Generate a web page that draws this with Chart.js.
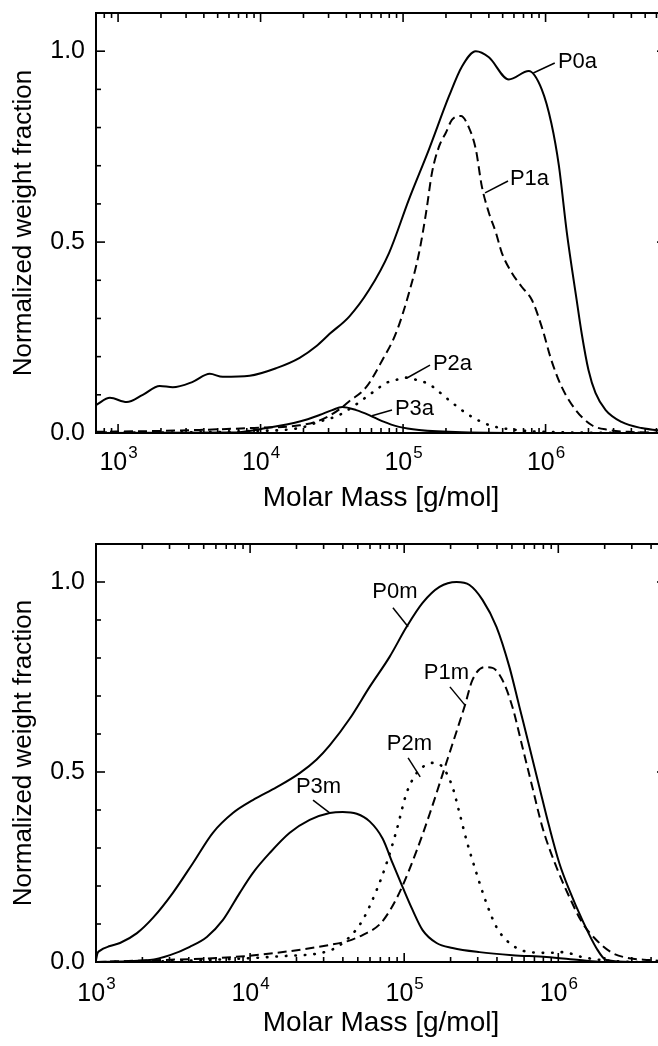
<!DOCTYPE html>
<html lang="en">
<head>
<meta charset="UTF-8">
<title>Normalized weight fraction vs molar mass</title>
<script src="https://cdn.jsdelivr.net/npm/chart.js"></script>
<style>
  html, body { margin: 0; padding: 0; overflow: hidden; background: #fff; }
  canvas { display: block; }
</style>
</head>
<body>
<canvas id="chartA" width="666" height="520"></canvas>
<canvas id="chartM" width="666" height="526"></canvas>
<script>
// ---- top panel (a) ----
const massP0a = [700, 877, 1150, 1490, 1960, 2420, 3340, 4400, 5420, 8380, 12900, 18800, 24700, 30400, 41900, 57800, 79800, 110000, 152000, 210000, 259000, 324000, 400000, 552000, 762000, 940000, 1100000, 1240000, 1410000, 1650000, 1790000, 2000000, 2240000, 2640000, 3410000, 4710000, 7000000];
const wP0a = [0.073, 0.092, 0.081, 0.10, 0.123, 0.12, 0.134, 0.155, 0.147, 0.15, 0.17, 0.197, 0.228, 0.259, 0.305, 0.375, 0.472, 0.612, 0.743, 0.882, 0.96, 1.0, 0.984, 0.926, 0.948, 0.90, 0.81, 0.70, 0.525, 0.35, 0.262, 0.165, 0.105, 0.06, 0.029, 0.013, 0.005];

const massP1a = [700, 1670, 3740, 8380, 18800, 24700, 30400, 35700, 41900, 55100, 71300, 89300, 110000, 129500, 145000, 159600, 178700, 200000, 220000, 254700, 289800, 324000, 357000, 400000, 448000, 493000, 579000, 680000, 800000, 940000, 1100000, 1300000, 1630000, 2100000, 2770000, 3820000, 7000000];
const wP1a = [0.003, 0.005, 0.008, 0.013, 0.02, 0.03, 0.045, 0.062, 0.083, 0.12, 0.19, 0.262, 0.367, 0.472, 0.577, 0.682, 0.75, 0.787, 0.82, 0.83, 0.80, 0.743, 0.646, 0.577, 0.525, 0.472, 0.42, 0.383, 0.349, 0.278, 0.19, 0.12, 0.06, 0.021, 0.008, 0.003, 0.0];

const massP2a = [700, 3740, 8380, 18800, 25900, 35700, 46900, 55100, 64700, 76000, 89300, 105000, 129500, 152000, 178700, 220000, 290000, 400000, 618000, 1240000, 7000000];
const wP2a = [0.001, 0.002, 0.005, 0.013, 0.03, 0.047, 0.075, 0.094, 0.113, 0.131, 0.139, 0.145, 0.137, 0.128, 0.108, 0.08, 0.047, 0.021, 0.008, 0.002, 0.0];

const massP3a = [700, 6370, 11000, 18800, 25900, 31800, 37400, 46900, 57800, 71300, 93700, 129500, 259000, 1050000, 7000000];
const wP3a = [0, 0.001, 0.013, 0.03, 0.047, 0.06, 0.068, 0.06, 0.047, 0.031, 0.016, 0.008, 0.002, 0, 0];

// ---- bottom panel (m) ----
const massP0m = [1000, 1020, 1062, 1232, 1431, 1845, 2340, 3155, 4253, 5731, 7727, 10410, 14890, 20990, 27040, 32850, 44270, 59670, 80390, 103700, 131600, 169500, 218600, 265400, 322200, 397000, 482000, 559700, 650000, 754000, 875000, 1016000, 1180000, 1433000, 1765000, 2050000, 3000000, 5000000];
const wP0m = [0.005, 0.022, 0.03, 0.042, 0.05, 0.076, 0.116, 0.182, 0.26, 0.34, 0.392, 0.426, 0.46, 0.497, 0.533, 0.57, 0.64, 0.724, 0.803, 0.882, 0.945, 0.987, 1.0, 0.992, 0.953, 0.882, 0.776, 0.671, 0.566, 0.46, 0.355, 0.26, 0.189, 0.11, 0.037, 0.005, 0, 0];

const massP1m = [1000, 1740, 7730, 15500, 32800, 43000, 53700, 69700, 82000, 96800, 121000, 147000, 178500, 220000, 248000, 277000, 333000, 374000, 434000, 504000, 585000, 679000, 788000, 972000, 1180000, 1433000, 1765000, 2240000, 2890000, 3890000, 5000000];
const wP1m = [0, 0.003, 0.013, 0.025, 0.045, 0.055, 0.071, 0.1, 0.14, 0.197, 0.295, 0.392, 0.497, 0.61, 0.676, 0.742, 0.776, 0.774, 0.742, 0.671, 0.566, 0.46, 0.355, 0.25, 0.171, 0.103, 0.058, 0.024, 0.01, 0.005, 0.002];

const massP2m = [1000, 2240, 7730, 15500, 32800, 44270, 53700, 66200, 76900, 89300, 103700, 120300, 131600, 152800, 177500, 206000, 228500, 253500, 294300, 341700, 397000, 482000, 650000, 875000, 1065000, 1433000, 1930000, 3360000, 5000000];
const wP2m = [0, 0.001, 0.008, 0.015, 0.03, 0.066, 0.11, 0.189, 0.26, 0.347, 0.445, 0.497, 0.513, 0.524, 0.513, 0.46, 0.392, 0.321, 0.234, 0.155, 0.092, 0.05, 0.026, 0.024, 0.026, 0.013, 0.005, 0, 0];

const massP3m = [1000, 2240, 3020, 4060, 5240, 6650, 8570, 10410, 13420, 18080, 24360, 32850, 39900, 49200, 59670, 72400, 84100, 97700, 113300, 131600, 162200, 206000, 308000, 504000, 837000, 1370000, 1930000, 5000000];
const wP3m = [0, 0.005, 0.018, 0.04, 0.066, 0.11, 0.182, 0.234, 0.287, 0.34, 0.374, 0.392, 0.395, 0.39, 0.37, 0.325, 0.26, 0.197, 0.137, 0.084, 0.05, 0.037, 0.026, 0.018, 0.013, 0.005, 0, 0];

const yTicks = [0, 0.5, 1.0];

// curve labels with their pointer lines, in data coordinates
const labelsA = [
  { text: 'P0a', at: [1.22e6, 0.972], align: 'left', from: [8.2e5, 0.943], to: [1.16e6, 0.969] },
  { text: 'P1a', at: [5.62e5, 0.665], align: 'left', from: [3.76e5, 0.629], to: [5.45e5, 0.66] },
  { text: 'P2a', at: [1.62e5, 0.181], align: 'left', from: [1.065e5, 0.144], to: [1.545e5, 0.178] },
  { text: 'P3a', at: [8.77e4, 0.063], align: 'left', from: [6.05e4, 0.045], to: [8.36e4, 0.06] }
];
const labelsM = [
  { text: 'P0m', at: [8.71e4, 0.974], align: 'center', from: [8.45e4, 0.932], to: [1.06e5, 0.882] },
  { text: 'P1m', at: [1.88e5, 0.76], align: 'center', from: [1.98e5, 0.724], to: [2.48e5, 0.676] },
  { text: 'P2m', at: [1.08e5, 0.574], align: 'center', from: [1.06e5, 0.537], to: [1.27e5, 0.487] },
  { text: 'P3m', at: [2.78e4, 0.46], align: 'center', from: [2.56e4, 0.426], to: [3.3e4, 0.392] }
];

const FONT = '"Liberation Sans", Arial, Helvetica, sans-serif';

function pts(xs, ys) {
  return xs.map((m, i) => ({ x: m, y: ys[i] }));
}

function curve(xs, ys, style) {
  const ds = {
    data: pts(xs, ys),
    borderColor: '#000',
    borderWidth: 2,
    pointRadius: 0,
    fill: false,
    cubicInterpolationMode: 'monotone'
  };
  if (style === 'dash') ds.borderDash = [9, 5];
  if (style === 'dot') {
    ds.borderDash = [0.5, 9];
    ds.borderCapStyle = 'round';
    ds.borderWidth = 2.6;
  }
  return ds;
}

// frame, inward ticks, 10^n labels and curve annotations
const decor = {
  id: 'decor',
  afterDraw(chart, args, opts) {
    const { ctx, chartArea: a, scales: { x, y } } = chart;
    ctx.save();
    ctx.strokeStyle = '#000';
    ctx.fillStyle = '#000';

    const seg = (x1, y1, x2, y2) => {
      ctx.beginPath(); ctx.moveTo(x1, y1); ctx.lineTo(x2, y2); ctx.stroke();
    };

    // ticks on x (bottom + top)
    ctx.lineWidth = 1.6;
    const lo = Math.floor(Math.log10(x.min)), hi = Math.ceil(Math.log10(x.max));
    for (let d = lo; d <= hi; d++) {
      for (let k = 1; k <= 9; k++) {
        const v = k * Math.pow(10, d);
        if (v < x.min * 0.999 || v > x.max) continue;
        const px = x.getPixelForValue(v);
        const len = k === 1 ? 9 : 5;
        seg(px, a.bottom, px, a.bottom - len);
        seg(px, a.top, px, a.top + len);
      }
    }
    // ticks on y (left + right)
    for (let i = 0; i <= 11; i++) {
      const v = i / 10;
      if (v > y.max) continue;
      const py = y.getPixelForValue(v);
      const len = i % 5 === 0 ? 9 : 5;
      seg(a.left, py, a.left + len, py);
      seg(a.right, py, a.right - len, py);
    }

    // frame
    ctx.lineWidth = 2;
    ctx.strokeRect(a.left, a.top, a.right - a.left, a.bottom - a.top);

    // 10^n tick labels
    ctx.textBaseline = 'alphabetic';
    ctx.textAlign = 'left';
    for (let d = lo; d <= hi; d++) {
      const v = Math.pow(10, d);
      if (v < x.min * 0.999 || v > x.max) continue;
      const px = x.getPixelForValue(v);
      ctx.font = '25px ' + FONT;
      const w1 = ctx.measureText('10').width;
      ctx.font = '17px ' + FONT;
      const w2 = ctx.measureText(String(d)).width;
      const start = px - (w1 + w2) / 2;
      const base = a.bottom + opts.labelDrop;
      ctx.font = '25px ' + FONT;
      ctx.fillText('10', start, base);
      ctx.font = '17px ' + FONT;
      ctx.fillText(String(d), start + w1 + 1, base - 12);
    }

    // curve labels
    ctx.lineWidth = 1.5;
    ctx.font = '22px ' + FONT;
    ctx.textBaseline = 'middle';
    opts.labels.forEach(l => {
      seg(x.getPixelForValue(l.from[0]), y.getPixelForValue(l.from[1]),
          x.getPixelForValue(l.to[0]), y.getPixelForValue(l.to[1]));
      ctx.textAlign = l.align;
      ctx.fillText(l.text, x.getPixelForValue(l.at[0]), y.getPixelForValue(l.at[1]));
    });
    ctx.restore();
  }
};

function makeChart(id, datasets, cfg) {
  return new Chart(document.getElementById(id), {
    type: 'line',
    data: { datasets: datasets },
    plugins: [decor],
    options: {
      responsive: false,
      animation: false,
      events: [],
      layout: { padding: { top: cfg.padTop, right: 0, bottom: 0, left: 0 } },
      plugins: {
        legend: { display: false },
        tooltip: { enabled: false },
        decor: { labels: cfg.labels, labelDrop: cfg.labelDrop }
      },
      scales: {
        x: {
          type: 'logarithmic',
          min: cfg.xMin,
          max: cfg.xMax,
          grid: { display: false, drawTicks: false },
          border: { display: false },
          ticks: { display: false },
          title: {
            display: true,
            text: 'Molar Mass [g/mol]',
            color: '#000',
            font: { family: FONT, size: 28 },
            padding: { top: 0, bottom: cfg.titlePad }
          },
          afterFit(s) {
            s.height = cfg.xAxisHeight;
            s.paddingLeft = 0; s.paddingRight = 0;
          }
        },
        y: {
          min: 0,
          max: 1.1,
          grid: { display: false, drawTicks: false },
          border: { display: false },
          afterBuildTicks(s) { s.ticks = yTicks.map(v => ({ value: v })); },
          ticks: {
            padding: 11,
            color: '#000',
            font: { family: FONT, size: 25 },
            callback: v => Number(v).toFixed(1)
          },
          title: {
            display: true,
            text: 'Normalized weight fraction',
            color: '#000',
            font: { family: FONT, size: 26 },
            padding: { top: 8.4, bottom: 0 }
          },
          afterFit(s) {
            s.width = 96;
            s.paddingTop = 0; s.paddingBottom = 0;
          }
        }
      }
    }
  });
}

makeChart('chartA', [
  curve(massP0a, wP0a, 'solid'),
  curve(massP1a, wP1a, 'dash'),
  curve(massP2a, wP2a, 'dot'),
  curve(massP3a, wP3a, 'solid')
], { xMin: 700, xMax: 7e6, padTop: 13, xAxisHeight: 87, titlePad: 4.6, labelDrop: 37, labels: labelsA });

makeChart('chartM', [
  curve(massP0m, wP0m, 'solid'),
  curve(massP1m, wP1m, 'dash'),
  curve(massP2m, wP2m, 'dot'),
  curve(massP3m, wP3m, 'solid')
], { xMin: 1000, xMax: 5e6, padTop: 24, xAxisHeight: 84, titlePad: 5.6, labelDrop: 39, labels: labelsM });
</script>
</body>
</html>
